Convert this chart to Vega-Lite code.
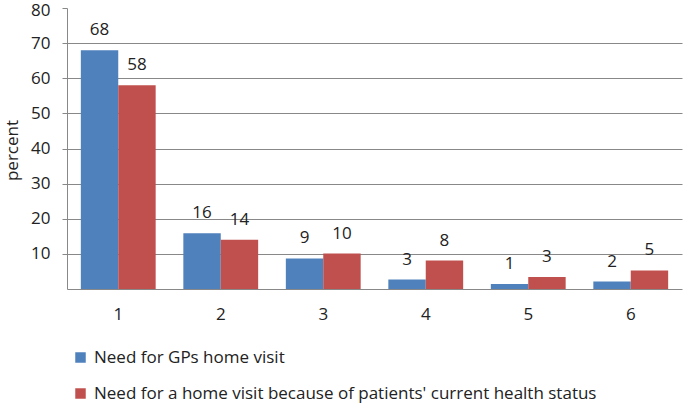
{
  "$schema": "https://vega.github.io/schema/vega-lite/v6.json",
  "width": 615,
  "height": 281,
  "autosize": {"type": "none"},
  "padding": {"left": 67, "top": 8, "right": 3, "bottom": 118},
  "background": "white",
  "config": {
    "view": {"stroke": null},
    "font": "Open Sans"
  },
  "data": {
    "values": [
      {"cat": "1", "series": "Need for GPs home visit", "value": 68, "label": "68"},
      {"cat": "1", "series": "Need for a home visit because of patients' current health status", "value": 58, "label": "58"},
      {"cat": "2", "series": "Need for GPs home visit", "value": 15.9, "label": "16"},
      {"cat": "2", "series": "Need for a home visit because of patients' current health status", "value": 14, "label": "14"},
      {"cat": "3", "series": "Need for GPs home visit", "value": 8.7, "label": "9"},
      {"cat": "3", "series": "Need for a home visit because of patients' current health status", "value": 10.1, "label": "10"},
      {"cat": "4", "series": "Need for GPs home visit", "value": 2.7, "label": "3"},
      {"cat": "4", "series": "Need for a home visit because of patients' current health status", "value": 8.1, "label": "8"},
      {"cat": "5", "series": "Need for GPs home visit", "value": 1.4, "label": "1"},
      {"cat": "5", "series": "Need for a home visit because of patients' current health status", "value": 3.4, "label": "3"},
      {"cat": "6", "series": "Need for GPs home visit", "value": 2.1, "label": "2"},
      {"cat": "6", "series": "Need for a home visit because of patients' current health status", "value": 5.3, "label": "5"}
    ]
  },
  "encoding": {
    "x": {
      "field": "cat",
      "type": "nominal",
      "scale": {"paddingInner": 0.27, "paddingOuter": 0.135},
      "axis": {
        "title": null,
        "labelAngle": 0,
        "labelFontSize": 17,
        "labelColor": "#222",
        "labelPadding": 17,
        "ticks": false,
        "domainColor": "#888",
        "domainWidth": 1
      }
    },
    "xOffset": {
      "field": "series",
      "type": "nominal",
      "sort": ["Need for GPs home visit", "Need for a home visit because of patients' current health status"],
      "scale": {"paddingInner": 0}
    },
    "y": {
      "field": "value",
      "type": "quantitative",
      "scale": {"domain": [0, 80], "nice": false},
      "axis": {
        "title": "percent",
        "titleFontSize": 17,
        "titleFontWeight": "normal",
        "titleColor": "#222",
        "titleX": -55,
        "titleY": 142,
        "titleAngle": -90,
        "titleAlign": "center",
        "titleBaseline": "middle",
        "values": [10, 20, 30, 40, 50, 60, 70, 80],
        "labelFontSize": 17,
        "labelColor": "#222",
        "labelPadding": 12,
        "labelOffset": {"condition": {"test": "datum.value == 80", "value": 2}, "value": 0},
        "tickSize": 5,
        "tickColor": "#888",
        "domainColor": "#888",
        "grid": true,
        "gridColor": "#888",
        "gridOpacity": {"condition": {"test": "datum.value == 80", "value": 0}, "value": 1}
      }
    }
  },
  "layer": [
    {
      "mark": {"type": "bar"},
      "encoding": {
        "color": {
          "field": "series",
          "type": "nominal",
          "sort": ["Need for GPs home visit", "Need for a home visit because of patients' current health status"],
          "scale": {
            "domain": ["Need for GPs home visit", "Need for a home visit because of patients' current health status"],
            "range": ["#4F81BD", "#C0504D"]
          },
          "legend": {
            "title": null,
            "orient": "none",
            "direction": "vertical",
            "legendX": 5,
            "legendY": 341,
            "symbolType": "square",
            "symbolSize": 110,
            "symbolStrokeWidth": 0,
            "symbolOpacity": 1,
            "labelFontSize": 17,
            "labelColor": "#222",
            "labelOffset": 5,
            "labelLimit": 700,
            "rowPadding": 18
          }
        }
      }
    },
    {
      "mark": {"type": "text", "fontSize": 17, "color": "#222", "baseline": "middle", "dy": -20},
      "encoding": {
        "text": {"field": "label"}
      }
    }
  ]
}
